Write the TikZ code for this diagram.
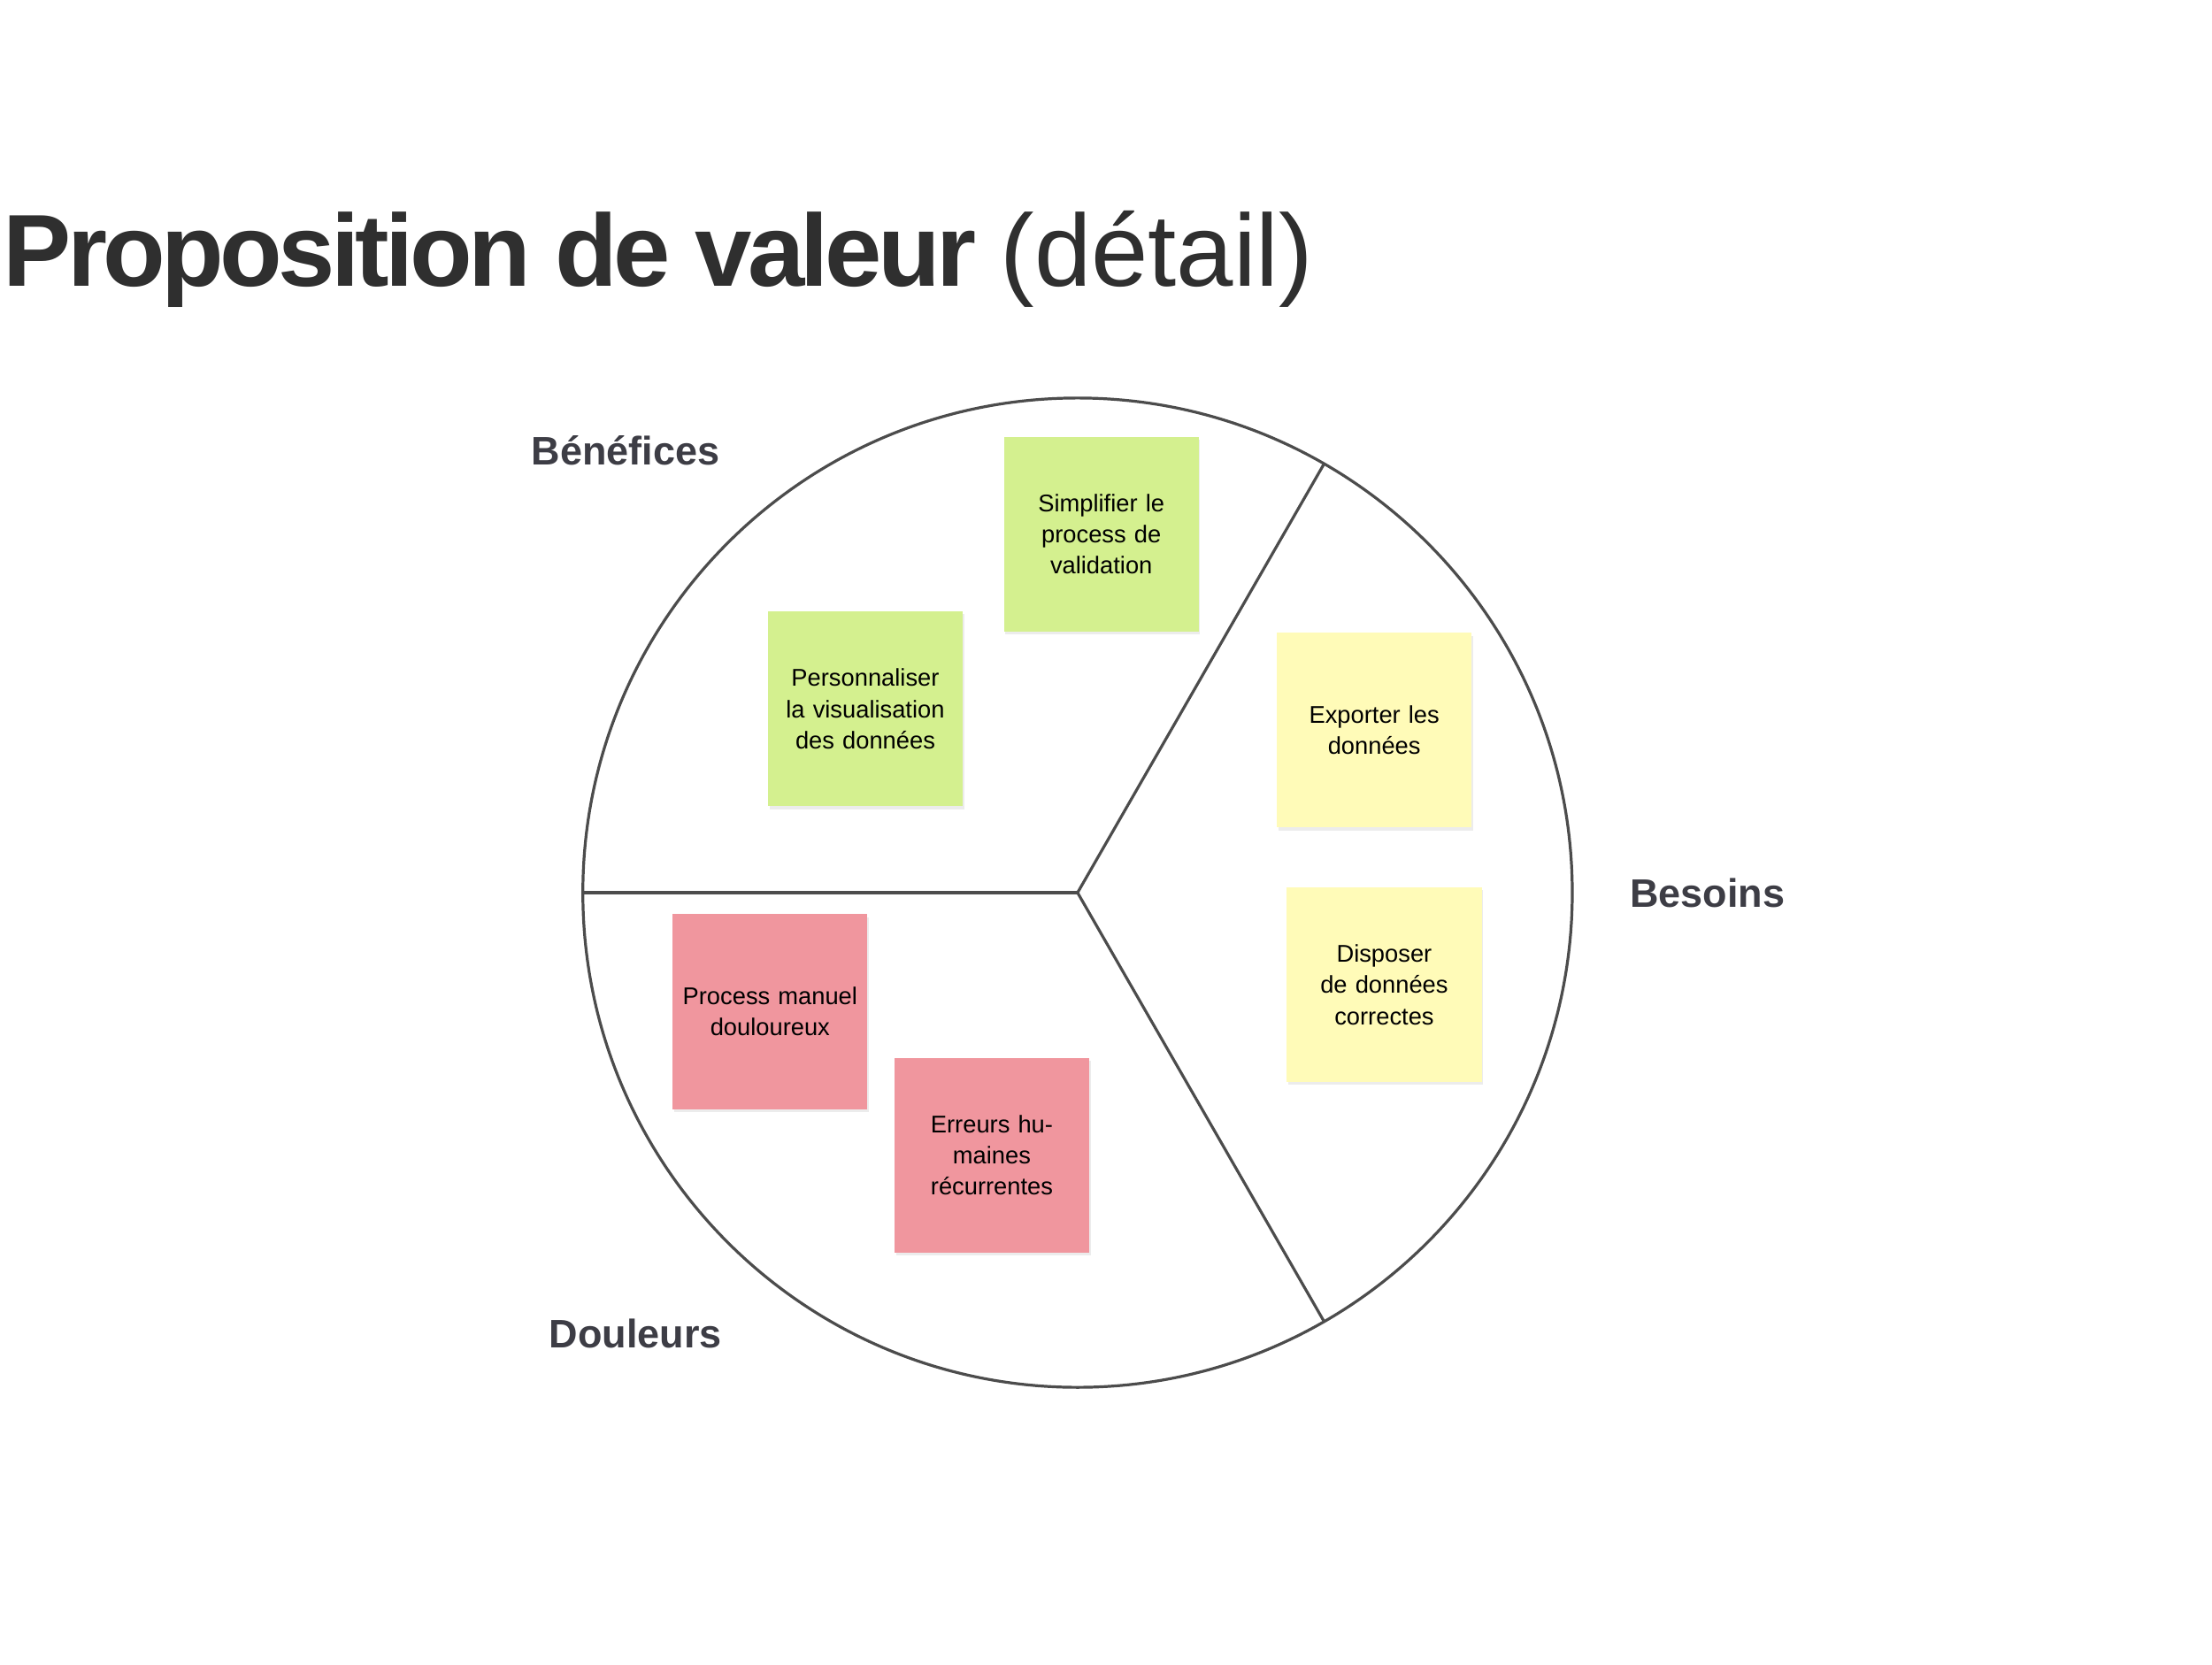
\documentclass[tikz,border=0pt]{standalone}
\usepackage{fontspec}
\setmainfont{Liberation Sans}
\usetikzlibrary{shadows}
\definecolor{sgreen}{HTML}{D4F08F}
\definecolor{syellow}{HTML}{FFFBB8}
\definecolor{spink}{HTML}{F0969E}
\definecolor{lbl}{HTML}{3D3D45}
\definecolor{ttl}{HTML}{2F2F2F}
\tikzset{
 sticky/.style={minimum width=137pt,minimum height=137pt,inner sep=4pt,text width=128pt,align=center,font=\fontsize{17}{22}\selectfont,anchor=north west,drop shadow={shadow xshift=1pt,shadow yshift=-2pt,opacity=0.15}},
 sect/.style={font=\bfseries\fontsize{28}{32}\selectfont,text=lbl},
 divider/.style={draw=black!70,line width=2pt}
}
\begin{document}
\begin{tikzpicture}[x=1pt,y=-1pt]
\useasboundingbox (0,0) rectangle (1556,1171);
\node[anchor=west,inner sep=0,text=ttl,font=\fontsize{72}{80}\selectfont] (title) at (2,182) {\textbf{\addfontfeature{LetterSpace=-4}Proposition de valeur} (détail)};
\coordinate (c) at (758,628);
\draw[divider] (c) circle (348);
\coordinate (p1) at (931,327);
\coordinate (p2) at (931,929);
\coordinate (p3) at (410,628);
\draw[divider] (c) -- (p1);
\draw[divider] (c) -- (p2);
\draw[divider] (c) -- (p3);
\node[sticky,fill=sgreen] (s1) at (706,307) {Simplifier le process de validation};
\node[sticky,fill=sgreen] (s2) at (540,430) {Personnaliser la visualisation des données};
\node[sticky,fill=syellow] (s3) at (898,445) {Exporter les données};
\node[sticky,fill=syellow] (s4) at (905,624) {Disposer de données correctes};
\node[sticky,fill=spink] (s5) at (473,643) {Process manuel douloureux};
\node[sticky,fill=spink] (s6) at (629,744) {Erreurs humaines récurrentes};
\node[sect] (b) at (440,317) {Bénéfices};
\node[sect] (n) at (1201,628) {Besoins};
\node[sect] (d) at (447,938) {Douleurs};
\end{tikzpicture}
\end{document}
